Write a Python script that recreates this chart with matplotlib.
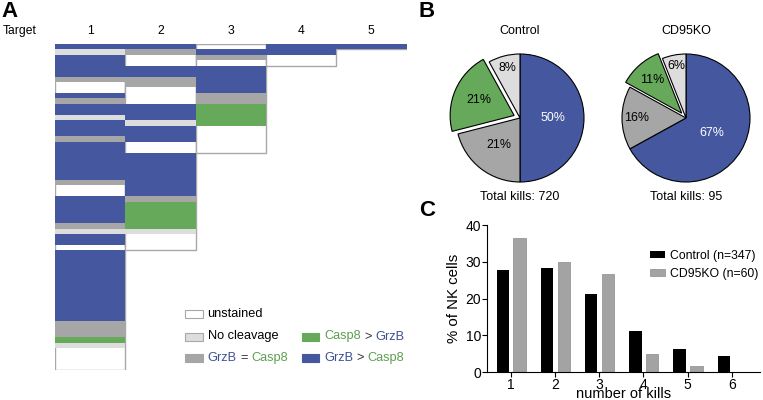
import matplotlib
matplotlib.use('Agg')
import matplotlib.pyplot as plt
import numpy as np

plt.rcParams['font.family'] = ['Liberation Sans', 'DejaVu Sans']

W, H = 763, 400

# ---------------- data ----------------
targets = [1, 2, 3, 4, 5]
# per-target stacks (state code, number of rows), top to bottom
col1 = [('G', 1), ('N', 1), ('G', 4), ('E', 1), ('U', 2), ('G', 1), ('E', 1), ('G', 2),
        ('N', 1), ('G', 3), ('E', 1), ('G', 7), ('E', 1), ('U', 2), ('G', 5), ('E', 1),
        ('N', 1), ('G', 2), ('U', 1), ('G', 13), ('E', 3), ('C', 1), ('N', 1), ('U', 4)]
col2 = [('G', 1), ('E', 1), ('U', 2), ('G', 2), ('E', 2), ('U', 3), ('G', 3), ('N', 1),
        ('G', 3), ('U', 2), ('G', 8), ('E', 1), ('C', 5), ('N', 1), ('U', 3)]
col3 = [('U', 1), ('G', 1), ('E', 1), ('U', 1), ('G', 5), ('E', 2), ('C', 4), ('U', 5)]
col4 = [('G', 2), ('U', 2)]
col5 = [('G', 1)]
columns = [col1, col2, col3, col4, col5]

state_labels = {'U': 'unstained', 'N': 'No cleavage', 'E': 'GrzB = Casp8',
                'C': 'Casp8 > GrzB', 'G': 'GrzB > Casp8'}

pie_titles = ['Control', 'CD95KO']
control_pct = [50, 21, 21, 8]   # GrzB>Casp8, GrzB=Casp8, Casp8>GrzB, No cleavage
ko_pct = [67, 16, 11, 6]
total_kills = [720, 95]

kills = [1, 2, 3, 4, 5, 6]
control_nk = [27.8, 28.3, 21.2, 11.1, 6.2, 4.5]
ko_nk = [36.6, 30.0, 26.6, 5.0, 1.7, 0.0]
bar_series = ['Control (n=347)', 'CD95KO (n=60)']

# ---------------- style ----------------
BLUE = '#44579F'
GREEN = '#66A95B'
GRAY = '#A6A6A6'
LGRAY = '#DDDDDD'
EDGE = '#A8A8A8'
TBLUE = '#3F4F94'
TGREEN = '#5E9E50'
state_colors = {'U': 'white', 'N': LGRAY, 'E': GRAY, 'C': GREEN, 'G': BLUE}
pie_colors = [BLUE, GRAY, GREEN, LGRAY]


def fx(x):
    return x / W


def fy(y):
    return 1 - y / H


fig = plt.figure(figsize=(W / 100, H / 100), dpi=100)
renderer = fig.canvas.get_renderer()

# ---------------- panel letters ----------------
fig.text(fx(1), fy(1), 'A', fontsize=16, fontweight='bold', ha='left', va='top')
fig.text(fx(419), fy(1), 'B', fontsize=16, fontweight='bold', ha='left', va='top')
fig.text(fx(419), fy(200), 'C', fontsize=16, fontweight='bold', ha='left', va='top')

# ---------------- panel A ----------------
nrows = sum(n for _, n in col1)
axA = fig.add_axes([fx(55), fy(370), 351.5 / W, 326 / H])
axA.set_xlim(0.5, 5.5)
axA.set_ylim(nrows, 0)
for j, col in zip(targets, columns):
    total = sum(n for _, n in col)
    axA.bar(j, total, bottom=0, width=1, facecolor='white', edgecolor=EDGE,
            linewidth=1.0, zorder=1)
    y = 0
    for code, n in col:
        if code != 'U':
            axA.bar(j, n, bottom=y, width=1, color=state_colors[code],
                    linewidth=0, antialiased=False, zorder=2)
        y += n
axA.xaxis.tick_top()
axA.set_xticks(targets)
axA.set_xticklabels([str(t) for t in targets], fontsize=8.7)
axA.tick_params(axis='x', length=0, pad=5)
axA.set_yticks([])
for s in axA.spines.values():
    s.set_visible(False)
fig.text(fx(3), fy(30.7), 'Target', fontsize=8.7, ha='left', va='center')


def colored_text(x, y, pieces, fontsize):
    # x,y in pixels (top-left origin), pieces: list of (text, color)
    sp = fig.text(0, 0, 'a a', fontsize=fontsize)
    sp2 = fig.text(0, 0, 'aa', fontsize=fontsize)
    space = sp.get_window_extent(renderer).width - sp2.get_window_extent(renderer).width
    sp.remove()
    sp2.remove()
    cx = x
    for txt, c in pieces:
        t = fig.text(fx(cx), fy(y), txt, fontsize=fontsize, color=c,
                     ha='left', va='center')
        cx += t.get_window_extent(renderer).width + space


leg_rows = [314, 336.5, 358]
legA = [
    (185, leg_rows[0], 'U', [('unstained', 'black')]),
    (185, leg_rows[1], 'N', [('No cleavage', 'black')]),
    (185, leg_rows[2], 'E', [('GrzB', TBLUE), ('=', '#333333'), ('Casp8', TGREEN)]),
    (301.7, leg_rows[1], 'C', [('Casp8', TGREEN), ('>', '#333333'), ('GrzB', TBLUE)]),
    (301.7, leg_rows[2], 'G', [('GrzB', TBLUE), ('>', '#333333'), ('Casp8', TGREEN)]),
]
for x0, y0, code, pieces in legA:
    ec = EDGE if code in ('U', 'N') else state_colors[code]
    fig.patches.append(plt.Rectangle((fx(x0), fy(y0 + 4)), 17.5 / W, 8 / H,
                                     facecolor=state_colors[code], edgecolor=ec,
                                     linewidth=0.8, transform=fig.transFigure,
                                     figure=fig))
    colored_text(x0 + 22.5, y0, pieces, 9.2)

# ---------------- panel B ----------------
pie_centers = [(520, 118), (686, 118)]
label_dist = [[0.52, 0.54, 0.60, 0.80], [0.47, 0.77, 0.69, 0.83]]
for k, (vals, (cx, cy)) in enumerate(zip([control_pct, ko_pct], pie_centers)):
    ax = fig.add_axes([fx(cx - 80), fy(cy + 80), 160 / W, 160 / H])
    wedges, _ = ax.pie(vals, colors=pie_colors, startangle=90, counterclock=False,
                       explode=[0, 0, 0.1, 0], radius=1,
                       wedgeprops=dict(edgecolor='black', linewidth=0.8))
    ax.set_xlim(-1.25, 1.25)
    ax.set_ylim(-1.25, 1.25)
    ax.set_aspect('equal')
    ax.axis('off')
    for i, (w, v) in enumerate(zip(wedges, vals)):
        th = np.deg2rad((w.theta1 + w.theta2) / 2)
        d = label_dist[k][i]
        px = w.center[0] + d * np.cos(th)
        py = w.center[1] + d * np.sin(th)
        ax.text(px, py, f'{v}%', ha='center', va='center', fontsize=8.9,
                color='white' if i == 0 else 'black')
    fig.text(fx(cx), fy(31), pie_titles[k], ha='center', va='center', fontsize=9)
    fig.text(fx(cx), fy(197), f'Total kills: {total_kills[k]}', ha='center',
             va='center', fontsize=9)

# ---------------- panel C ----------------
ax_top, ax_bot = 225, 372.3
axC = fig.add_axes([fx(486.7), fy(ax_bot), (760 - 486.7) / W, (ax_bot - ax_top) / H])
bw = 0.28
xs = np.array(kills, dtype=float)
axC.bar(xs - 0.18, control_nk, width=bw, color='black', label=bar_series[0])
axC.bar(xs + 0.20, ko_nk, width=bw, color='#A3A3A3', edgecolor='#8C8C8C',
        linewidth=0.5, label=bar_series[1])
axC.set_xlim(0.457, 6.64)
axC.set_ylim(0, 40)
axC.set_yticks([0, 10, 20, 30, 40])
axC.set_xticks(kills)
axC.spines['top'].set_visible(False)
axC.spines['right'].set_visible(False)
axC.tick_params(axis='both', labelsize=10, length=3.5, width=0.8, pad=0.5)
axC.set_ylabel('% of NK cells', fontsize=10.8, labelpad=3)
axC.set_xlabel('number of kills', fontsize=10.5)
axC.xaxis.set_label_coords(0.5, -(386.5 - ax_bot) / (ax_bot - ax_top))
leg = axC.legend(loc='upper left', bbox_to_anchor=(fx(650), fy(250)),
                 bbox_transform=fig.transFigure, frameon=False, fontsize=8.8,
                 handlelength=1.25, handleheight=0.5, handletextpad=0.35,
                 labelspacing=0.45, borderpad=0, borderaxespad=0)

fig.savefig('out.png', dpi=100)
